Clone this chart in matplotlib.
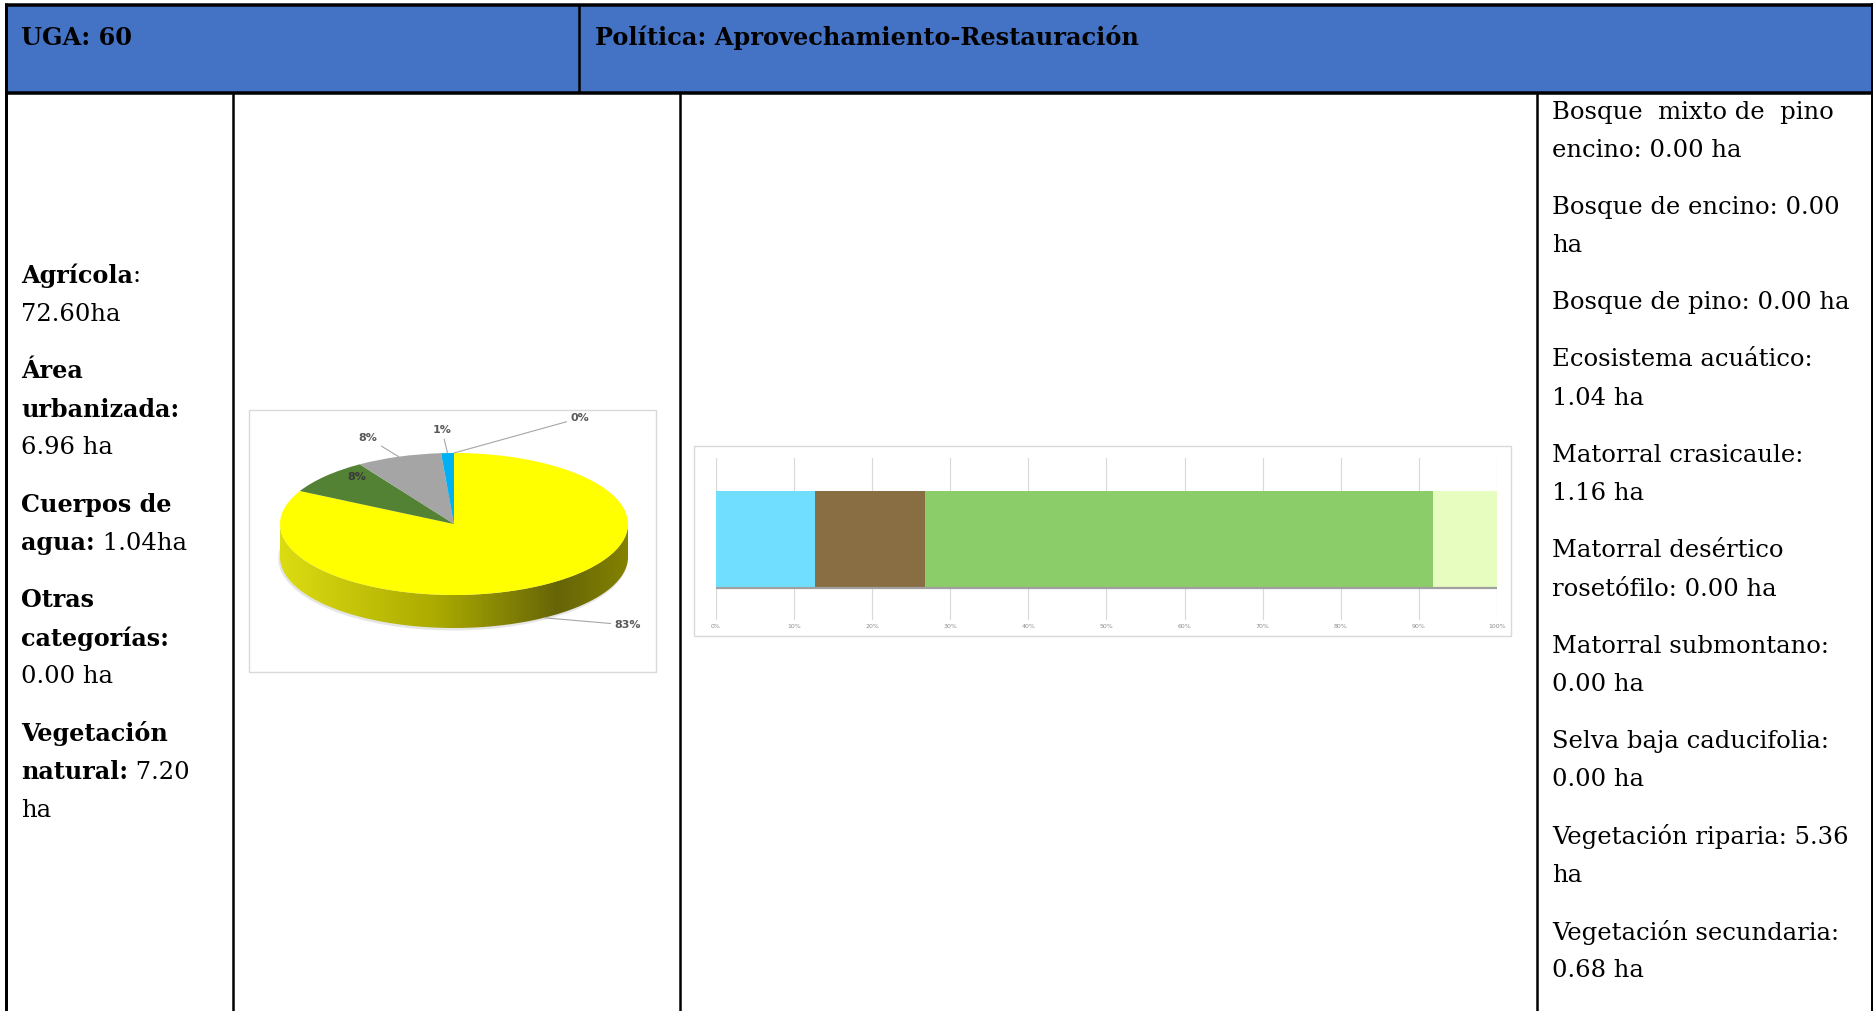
import textwrap
import numpy as np
import matplotlib
matplotlib.use("Agg")
import matplotlib.pyplot as plt
from matplotlib.patches import Rectangle, PathPatch, Ellipse
from matplotlib.path import Path
from matplotlib.colors import LinearSegmentedColormap

# ---------------- data ----------------
uga = "60"
politica = "Aprovechamiento-Restauración"

uso_labels = ["Agrícola", "Área urbanizada", "Cuerpos de agua", "Otras categorías", "Vegetación natural"]
uso_ha = [72.60, 6.96, 1.04, 0.00, 7.20]

pie_order = ["Agrícola", "Vegetación natural", "Área urbanizada", "Cuerpos de agua", "Otras categorías"]
pie_colors = ["#FFFF00", "#548235", "#A5A5A5", "#00B0F0", "#ED7D31"]

veg_labels = ["Bosque  mixto de  pino encino", "Bosque de encino", "Bosque de pino",
              "Ecosistema acuático", "Matorral crasicaule", "Matorral desértico rosetófilo",
              "Matorral submontano", "Selva baja caducifolia", "Vegetación riparia",
              "Vegetación secundaria"]
veg_ha = [0.00, 0.00, 0.00, 1.04, 1.16, 0.00, 0.00, 0.00, 5.36, 0.68]

bar_labels = ["Ecosistema acuático", "Matorral crasicaule", "Vegetación riparia", "Vegetación secundaria"]
bar_colors = ["#6FDEFF", "#896D43", "#8BCD69", "#E7FDC0"]
bar_ticks = [0, 10, 20, 30, 40, 50, 60, 70, 80, 90, 100]

# ---------------- figure ----------------
W, H, DPI = 1874, 1011, 100
fig = plt.figure(figsize=(W / DPI, H / DPI), dpi=DPI)
bg = fig.add_axes([0, 0, 1, 1])
bg.set_xlim(0, W)
bg.set_ylim(H, 0)
bg.axis("off")


def px_lw(p):
    return p * 72.0 / DPI


def add_px_axes(x0, y0, x1, y1):
    return fig.add_axes([x0 / W, 1 - y1 / H, (x1 - x0) / W, (y1 - y0) / H])


SERIF = "DejaVu Serif"
FS = 17.5
FSB = 17.2
FSH = 17.3

# header
bg.add_patch(Rectangle((5, 5), 1868, 87, fc="#4472C4", ec="none", zorder=1))
bg.plot([5, 1873], [4.5, 4.5], color="black", lw=px_lw(3.5), solid_capstyle="butt", zorder=3)
bg.plot([5, 1873], [92.5, 92.5], color="black", lw=px_lw(3.5), solid_capstyle="butt", zorder=3)
bg.plot([6, 6], [3, H], color="black", lw=px_lw(3), solid_capstyle="butt", zorder=3)
bg.plot([1872.5, 1872.5], [3, H], color="black", lw=px_lw(2), solid_capstyle="butt", zorder=3)
bg.plot([579.5, 579.5], [5, 92], color="black", lw=px_lw(2.5), solid_capstyle="butt", zorder=3)
for xl in [233.5, 680, 1537]:
    bg.plot([xl, xl], [92, H], color="black", lw=px_lw(2.5), solid_capstyle="butt", zorder=3)

bg.text(21, 38, f"UGA: {uga}", fontsize=FSH, fontfamily=SERIF, fontweight="bold",
        va="center", ha="left", zorder=4)
bg.text(595, 38, f"Política: {politica}", fontsize=FSH, fontfamily=SERIF, fontweight="bold",
        va="center", ha="left", zorder=4)


def draw_line(segments, x, y):
    prev = None
    for txt, bold in segments:
        kw = dict(fontsize=FSB if bold else FS, fontfamily=SERIF,
                  fontweight="bold" if bold else "normal", va="center", ha="left",
                  color="black", zorder=4)
        if prev is None:
            prev = bg.text(x, y, txt, **kw)
        else:
            prev = bg.annotate(txt, xy=(1, 0.5), xycoords=prev, **kw)


LINE = 38.2
GAP = 19

# left column
v = dict(zip(uso_labels, uso_ha))
left_items = [
    [[("Agrícola", True), (":", False)], [(f"{v['Agrícola']:.2f}ha", False)]],
    [[("Área", True)], [("urbanizada:", True)], [(f"{v['Área urbanizada']:.2f} ha", False)]],
    [[("Cuerpos de", True)], [("agua:", True), (f" {v['Cuerpos de agua']:.2f}ha", False)]],
    [[("Otras", True)], [("categorías:", True)], [(f"{v['Otras categorías']:.2f} ha", False)]],
    [[("Vegetación", True)], [("natural:", True), (f" {v['Vegetación natural']:.2f}", False)], [("ha", False)]],
]
y = 276
for item in left_items:
    for i, segs in enumerate(item):
        draw_line(segs, 21, y + i * LINE)
    y += len(item) * LINE + GAP

# right column
y = 112
for lab, val in zip(veg_labels, veg_ha):
    lines = textwrap.wrap(f"{lab}: {val:.2f} ha", width=24, drop_whitespace=True)
    for i, ln in enumerate(lines):
        draw_line([(ln, False)], 1552, y + i * LINE)
    y += len(lines) * LINE + GAP

# ---------------- pie ----------------
bg.add_patch(Rectangle((249, 410), 407, 262, fc="white", ec="#d9d9d9", lw=1, zorder=2))
pax = add_px_axes(249, 410, 656, 672)
pax.patch.set_alpha(0)
pie_vals = [v[k] for k in pie_order]
total = sum(pie_vals)
wedges, _ = pax.pie(pie_vals, colors=pie_colors, startangle=90, counterclock=False,
                    radius=1, center=(0, 0), wedgeprops=dict(linewidth=0))
for w in wedges:
    w.set_zorder(2)
cx, cy, rx, ry = 454, 524, 174, 71
depth = 33 / ry

t = np.linspace(np.pi, 2 * np.pi, 200)
top = np.c_[np.cos(t), np.sin(t)]
bot = np.c_[np.cos(t[::-1]), np.sin(t[::-1]) - depth]
verts = np.vstack([top, bot, top[:1]])
codes = [Path.MOVETO] + [Path.LINETO] * (len(verts) - 2) + [Path.CLOSEPOLY]
side = PathPatch(Path(verts, codes), fc="none", ec="none")
pax.add_patch(side)
side_cmap = LinearSegmentedColormap.from_list(
    "side", [(0, "#dcdc12"), (0.45, "#abaa00"), (0.8, "#666508"), (1.0, "#838200")])
grad = np.linspace(0, 1, 256).reshape(1, -1)
im = pax.imshow(grad, extent=(-1, 1, -1 - depth, 0), cmap=side_cmap, aspect="auto",
                zorder=1, interpolation="bicubic")
im.set_clip_path(side)
pax.add_patch(Ellipse((-0.005, -depth - 0.02), 2.01, 2.03, fc="#808080", alpha=0.2,
                      ec="none", zorder=0.5))

pax.set_aspect("auto")
pax.set_xlim((249 - cx) / rx, (656 - cx) / rx)
pax.set_ylim((cy - 672) / ry, (cy - 410) / ry)
pax.axis("off")

label_px = {"Agrícola": (628, 625), "Vegetación natural": (357, 477),
            "Área urbanizada": (368, 438), "Cuerpos de agua": (442, 430),
            "Otras categorías": (580, 418)}
inside = {"Vegetación natural"}
for w, name, val in zip(wedges, pie_order, pie_vals):
    mid = np.deg2rad((w.theta1 + w.theta2) / 2)
    ex, ey = np.cos(mid), np.sin(mid)
    if ey < 0:
        ey -= depth
    lx, ly = label_px[name]
    tx, ty = (lx - cx) / rx, (cy - ly) / ry
    txt = f"{round(100 * val / total):.0f}%"
    if name in inside:
        pax.text(tx, ty, txt, fontsize=8, fontweight="bold", color="#3a3a3a",
                 ha="center", va="center", zorder=5, fontfamily="DejaVu Sans")
    else:
        pax.annotate(txt, xy=(ex, ey), xytext=(tx, ty), fontsize=8, fontweight="bold",
                     color="#595959", ha="center", va="center", zorder=5,
                     fontfamily="DejaVu Sans",
                     arrowprops=dict(arrowstyle="-", color="#a6a6a6", lw=0.8,
                                     shrinkA=1, shrinkB=0))

# ---------------- bar ----------------
bg.add_patch(Rectangle((694, 446), 817, 190, fc="white", ec="#d9d9d9", lw=1, zorder=2))
bax = add_px_axes(716, 458, 1497, 620)
bax.patch.set_alpha(0)
vh = dict(zip(veg_labels, veg_ha))
bvals = [vh[k] for k in bar_labels]
btot = sum(bvals)
bh = 0.593
left = 0
for lab, val, col in zip(bar_labels, bvals, bar_colors):
    pct = 100 * val / btot
    bax.barh(0, pct, left=left, height=bh, color=col, lw=0, zorder=2)
    left += pct
bax.plot([0, 100], [-bh / 2 - 0.008] * 2, color="#a0a0a0", lw=1.6, zorder=3,
         solid_capstyle="butt")
bax.set_xlim(0, 100)
bax.set_ylim(-0.5, 0.5)
bax.set_xticks(bar_ticks)
bax.set_xticklabels([f"{tk}%" for tk in bar_ticks])
bax.set_yticks([])
bax.tick_params(axis="x", length=0, labelsize=4.5, labelcolor="#8c8c8c", pad=3)
bax.grid(axis="x", color="#d9d9d9", lw=0.8)
bax.set_axisbelow(True)
for s in bax.spines.values():
    s.set_visible(False)

fig.savefig("out.png", dpi=DPI)
